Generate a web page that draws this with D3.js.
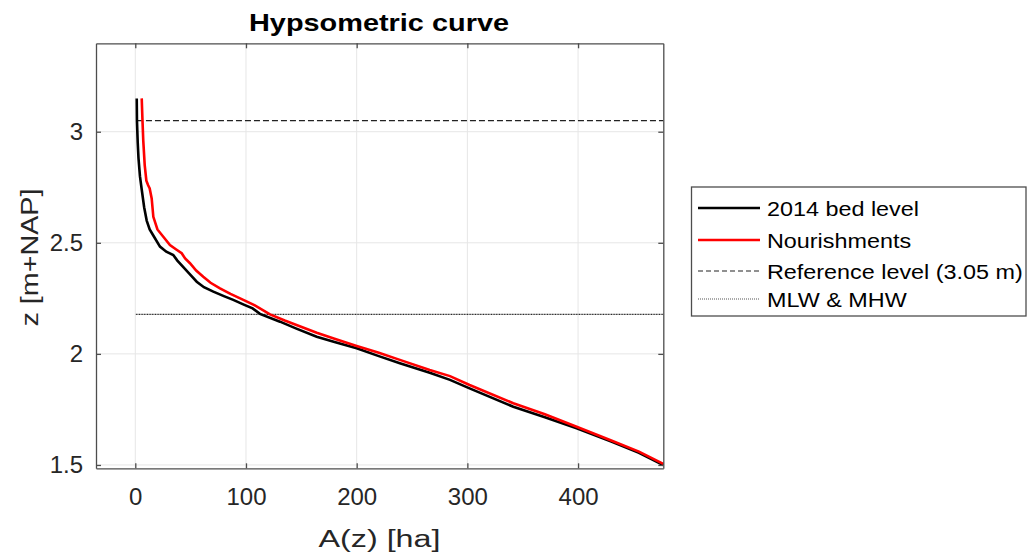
<!DOCTYPE html>
<html>
<head>
<meta charset="utf-8">
<script src="https://cdn.jsdelivr.net/npm/d3@7"></script>
<style>
  body { margin: 0; background: #fff; }
  text { font-family: "Liberation Sans", Arial, Helvetica, sans-serif; }
</style>
</head>
<body>
<script>
// hypsometric curve, area (ha) for each bed level z (m+NAP)
var bedA = [1.3, 1.5, 2.2, 2.9, 4.2, 5.8, 8, 10.3, 13, 16, 22.3, 28, 34.3, 38, 43.4, 49, 55.5, 62, 70.5, 80, 88.5, 98, 106, 112.6, 130.7, 145, 163.9, 180, 200, 220, 239, 266, 284.3, 302, 341.5, 370, 398.7, 430, 455, 477]
var bedZ = [3.15, 3.05, 2.95, 2.88, 2.8, 2.74, 2.66, 2.6, 2.56, 2.535, 2.483, 2.46, 2.445, 2.42, 2.39, 2.36, 2.325, 2.3, 2.28, 2.26, 2.243, 2.222, 2.205, 2.18, 2.145, 2.115, 2.077, 2.053, 2.025, 1.99, 1.958, 1.915, 1.883, 1.845, 1.762, 1.715, 1.665, 1.605, 1.555, 1.5]
var nourA = [5.8, 6.5, 7.2, 8.5, 10, 11.5, 13, 14.8, 16.3, 20, 25.3, 31.3, 37, 41.9, 45, 49.4, 55, 61.4, 68, 76.5, 86, 97.6, 108, 121.7, 135, 163.9, 180, 200, 220, 239, 266, 284.3, 302, 341.5, 370, 398.7, 430, 455, 477]
var nourZ = [3.15, 3.05, 2.96, 2.85, 2.78, 2.76, 2.745, 2.7, 2.617, 2.56, 2.527, 2.49, 2.47, 2.453, 2.43, 2.408, 2.375, 2.347, 2.32, 2.295, 2.27, 2.243, 2.218, 2.178, 2.15, 2.095, 2.068, 2.036, 2.005, 1.973, 1.927, 1.9, 1.86, 1.778, 1.728, 1.672, 1.61, 1.56, 1.505]

var refLevel = 3.05
var mlwLevel = 2.178
var xTicks = [0, 100, 200, 300, 400]
var yTicks = [1.5, 2, 2.5, 3]
var legendLabels = ["2014 bed level", "Nourishments", "Reference level (3.05 m)", "MLW & MHW"]

var w = 1028, h = 553

var svg = d3.select("body").append("svg")
    .attr("width", w).attr("height", h)

var x = d3.scaleLinear().domain([-35.5, 477]).range([96, 663.3])
var y = d3.scaleLinear().domain([1.485, 3.398]).range([468.3, 43.3])

// grid
svg.selectAll(".gx").data(xTicks).enter().append("line")
    .attr("x1", d => x(d)).attr("x2", d => x(d))
    .attr("y1", y.range()[1]).attr("y2", y.range()[0])
    .style("stroke", "#e6e6e6").style("stroke-width", 1)
svg.selectAll(".gy").data(yTicks).enter().append("line")
    .attr("x1", x.range()[0]).attr("x2", x.range()[1])
    .attr("y1", d => y(d)).attr("y2", d => y(d))
    .style("stroke", "#e6e6e6").style("stroke-width", 1)

// reference lines
svg.append("line")
    .attr("x1", x(1.5)).attr("x2", x(477))
    .attr("y1", y(refLevel)).attr("y2", y(refLevel))
    .style("stroke", "#222").style("stroke-width", 1.2)
    .style("stroke-dasharray", "6,3")
svg.append("line")
    .attr("x1", x(0.5)).attr("x2", x(477))
    .attr("y1", y(mlwLevel)).attr("y2", y(mlwLevel))
    .style("stroke", "#222").style("stroke-width", 1.4)
    .style("stroke-dasharray", "1,0.6")

var line = d3.line().x(d => x(d[0])).y(d => y(d[1]))

svg.append("path")
    .datum(d3.zip(bedA, bedZ))
    .attr("d", line)
    .style("fill", "none").style("stroke", "#000").style("stroke-width", 2.6)
svg.append("path")
    .datum(d3.zip(nourA, nourZ))
    .attr("d", line)
    .style("fill", "none").style("stroke", "#ff0000").style("stroke-width", 2.6)

// axes (ticks point inward, matlab style)
function styleAxis(g) {
  g.select(".domain").style("stroke", "#4d4d4d").style("stroke-width", 1.3)
  g.selectAll(".tick line").style("stroke", "#4d4d4d").style("stroke-width", 1.3)
  g.selectAll(".tick text")
    .style("font-family", '"Liberation Sans", Arial, sans-serif')
    .style("font-size", "24px").style("fill", "#262626")
}
svg.append("g").attr("transform", "translate(0," + y.range()[0] + ")")
    .call(d3.axisBottom(x).tickValues(xTicks).tickSizeInner(-5).tickSizeOuter(0).tickPadding(20))
    .call(styleAxis)
svg.append("g").attr("transform", "translate(0," + y.range()[1] + ")")
    .call(d3.axisTop(x).tickValues(xTicks).tickSizeInner(-5).tickSizeOuter(0).tickFormat(""))
    .call(styleAxis)
svg.append("g").attr("transform", "translate(" + x.range()[0] + ",0)")
    .call(d3.axisLeft(y).tickValues(yTicks).tickSizeInner(-5).tickSizeOuter(0).tickPadding(13).tickFormat(d3.format("")))
    .call(styleAxis)
svg.append("g").attr("transform", "translate(" + x.range()[1] + ",0)")
    .call(d3.axisRight(y).tickValues(yTicks).tickSizeInner(-5).tickSizeOuter(0).tickFormat(""))
    .call(styleAxis)

// titles
svg.append("text")
    .attr("x", 379).attr("y", 31)
    .attr("text-anchor", "middle")
    .attr("textLength", 260).attr("lengthAdjust", "spacingAndGlyphs")
    .style("font-size", "24px").style("font-weight", "bold").style("fill", "#000")
    .text("Hypsometric curve")
svg.append("text")
    .attr("x", 379.5).attr("y", 547)
    .attr("text-anchor", "middle")
    .attr("textLength", 122).attr("lengthAdjust", "spacingAndGlyphs")
    .style("font-size", "23px").style("fill", "#262626")
    .text("A(z) [ha]")
svg.append("text")
    .attr("transform", "translate(37.5,257.5) rotate(-90)")
    .attr("text-anchor", "middle")
    .attr("textLength", 138).attr("lengthAdjust", "spacingAndGlyphs")
    .style("font-size", "23px").style("fill", "#262626")
    .text("z [m+NAP]")

// legend
var lg = svg.append("g")
lg.append("rect")
    .attr("x", 691.5).attr("y", 187).attr("width", 334.5).attr("height", 129)
    .style("fill", "#fff").style("stroke", "#4d4d4d").style("stroke-width", 1.3)
var rowY = [208, 240, 271, 299]
var legStroke = ["#000", "#ff0000", "#222", "#555"]
var legWidth = [2.6, 2.6, 1.2, 1.2]
var legDash = ["none", "none", "5,3", "1,1"]
lg.selectAll(".ll").data(legendLabels).enter().append("line")
    .attr("x1", 698).attr("x2", 760)
    .attr("y1", (d, i) => rowY[i]).attr("y2", (d, i) => rowY[i])
    .style("stroke", (d, i) => legStroke[i])
    .style("stroke-width", (d, i) => legWidth[i])
    .style("stroke-dasharray", (d, i) => legDash[i])
lg.selectAll(".lt").data(legendLabels).enter().append("text")
    .attr("transform", (d, i) => "translate(767," + (rowY[i] + 7.5) + ") scale(1.14,1)")
    .style("font-size", "20.5px").style("fill", "#000")
    .text(d => d)
</script>
</body>
</html>
